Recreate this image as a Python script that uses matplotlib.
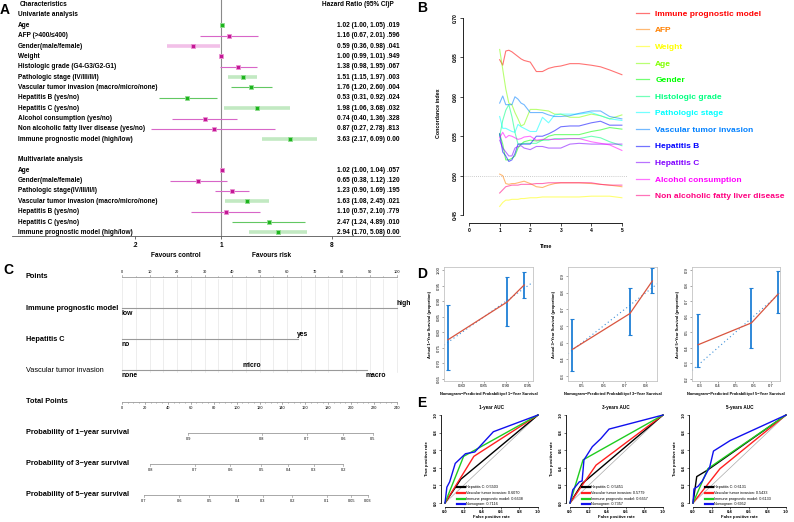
import numpy as np
import matplotlib
matplotlib.use('Agg')
import matplotlib.pyplot as plt
from matplotlib import transforms as mtrans
from matplotlib.lines import Line2D
from matplotlib.ticker import NullLocator

plt.rcParams['font.family'] = ['Liberation Sans', 'DejaVu Sans']
plt.rcParams['axes.linewidth'] = 0.6

# ---------------- DATA ----------------
# Panel A (forest plot)
uni_labels = ['Age', 'AFP (>400/\u2264400)', 'Gender(male/female)', 'Weight',
              'Histologic grade (G4-G3/G2-G1)', 'Pathologic stage (IV/III/II/I)',
              'Vascular tumor invasion (macro/micro/none)', 'Hepatitis B (yes/no)',
              'Hepatitis C (yes/no)', 'Alcohol consumption (yes/no)',
              'Non alcoholic fatty liver disease (yes/no)', 'Immune prognostic model (high/low)']
uni_hr = [1.02, 1.16, 0.59, 1.00, 1.38, 1.51, 1.76, 0.53, 1.98, 0.74, 0.87, 3.63]
uni_lo = [1.00, 0.67, 0.36, 0.99, 0.98, 1.15, 1.20, 0.31, 1.06, 0.40, 0.27, 2.17]
uni_hi = [1.05, 2.01, 0.98, 1.01, 1.95, 1.97, 2.60, 0.92, 3.68, 1.36, 2.78, 6.09]
uni_p = ['.019', '.596', '.041', '.949', '.067', '.003', '.004', '.024', '.032', '.328', '.813', '0.00']

multi_labels = ['Age', 'Gender(male/female)', 'Pathologic stage(IV/III/II/I)',
                'Vascular tumor invasion (macro/micro/none)', 'Hepatitis B (yes/no)',
                'Hepatitis C (yes/no)', 'Immune prognostic model (high/low)']
multi_hr = [1.02, 0.65, 1.23, 1.63, 1.10, 2.47, 2.94]
multi_lo = [1.00, 0.38, 0.90, 1.08, 0.57, 1.24, 1.70]
multi_hi = [1.04, 1.12, 1.69, 2.45, 2.10, 4.89, 5.08]
multi_p = ['.057', '.120', '.195', '.021', '.779', '.010', '0.00']

# style groups (separate from values)
uni_group = ['g', 'm', 'm', 'm', 'm', 'g', 'g', 'g', 'g', 'm', 'm', 'g']
uni_wide = [False, False, True, False, False, True, False, False, True, False, False, True]
multi_group = ['m', 'm', 'm', 'g', 'm', 'g', 'g']
multi_wide = [False, False, False, True, False, False, True]

# Panel B (time-dependent C-index)
b_time = [1.0, 1.1, 1.2, 1.3, 1.4, 1.5, 1.6, 1.7, 1.8, 2.0, 2.2, 2.4, 2.6, 2.8, 3.0, 3.3, 3.6, 4.0, 4.3, 4.6, 5.0]
b_names = ['Immune prognostic model', 'AFP', 'Weight', 'Age', 'Gender', 'Histologic grade',
           'Pathologic stage', 'Vascular tumor invasion', 'Hepatitis B', 'Hepatitis C',
           'Alcohol consumption', 'Non alcoholic fatty liver disease']
b_immune = [0.647, 0.640, 0.658, 0.659, 0.657, 0.654, 0.651, 0.648, 0.646, 0.644, 0.632, 0.632, 0.636, 0.638, 0.639, 0.642, 0.642, 0.640, 0.638, 0.634, 0.628]
b_afp = [0.502, 0.500, 0.490, 0.489, 0.490, 0.490, 0.491, 0.492, 0.493, 0.490, 0.486, 0.485, 0.488, 0.490, 0.491, 0.491, 0.491, 0.490, 0.489, 0.488, 0.486]
b_weight = [0.461, 0.466, 0.469, 0.469, 0.470, 0.470, 0.470, 0.471, 0.471, 0.472, 0.472, 0.473, 0.473, 0.473, 0.473, 0.473, 0.473, 0.474, 0.474, 0.474, 0.472]
b_age = [0.660, 0.635, 0.610, 0.592, 0.590, 0.580, 0.572, 0.563, 0.565, 0.584, 0.584, 0.583, 0.582, 0.578, 0.578, 0.574, 0.574, 0.578, 0.576, 0.572, 0.577]
b_gender = [0.553, 0.540, 0.520, 0.520, 0.522, 0.525, 0.535, 0.540, 0.543, 0.545, 0.544, 0.545, 0.550, 0.552, 0.552, 0.552, 0.552, 0.556, 0.558, 0.561, 0.559]
b_histo = [0.550, 0.570, 0.583, 0.590, 0.575, 0.555, 0.540, 0.540, 0.541, 0.541, 0.541, 0.545, 0.545, 0.547, 0.547, 0.547, 0.547, 0.550, 0.548, 0.543, 0.538]
b_path = [0.575, 0.560, 0.560, 0.558, 0.556, 0.555, 0.565, 0.562, 0.560, 0.556, 0.556, 0.574, 0.567, 0.577, 0.578, 0.578, 0.578, 0.580, 0.576, 0.572, 0.570]
b_vasc = [0.592, 0.601, 0.590, 0.590, 0.590, 0.600, 0.597, 0.592, 0.590, 0.580, 0.580, 0.580, 0.577, 0.575, 0.575, 0.576, 0.579, 0.582, 0.582, 0.575, 0.572]
b_hepb = [0.553, 0.530, 0.525, 0.518, 0.520, 0.528, 0.540, 0.540, 0.540, 0.540, 0.550, 0.550, 0.553, 0.557, 0.562, 0.563, 0.563, 0.567, 0.569, 0.564, 0.564]
b_hepc = [0.545, 0.535, 0.530, 0.525, 0.525, 0.535, 0.537, 0.538, 0.535, 0.533, 0.537, 0.537, 0.535, 0.535, 0.535, 0.540, 0.541, 0.540, 0.540, 0.540, 0.540]
b_alcohol = [0.548, 0.555, 0.548, 0.551, 0.550, 0.548, 0.546, 0.547, 0.549, 0.550, 0.545, 0.546, 0.546, 0.546, 0.546, 0.547, 0.547, 0.543, 0.541, 0.539, 0.532]
b_nafld = [0.478, 0.482, 0.486, 0.487, 0.488, 0.488, 0.488, 0.489, 0.489, 0.489, 0.490, 0.490, 0.491, 0.491, 0.491, 0.491, 0.491, 0.491, 0.489, 0.488, 0.488]
b_series = [b_immune, b_afp, b_weight, b_age, b_gender, b_histo, b_path, b_vasc,
            b_hepb, b_hepc, b_alcohol, b_nafld]

# Panel C (nomogram)
c_points_ticks = list(range(0, 101, 10))
c_vars = ['Immune prognostic model', 'Hepatitis C', 'Vascular tumor invasion']
c_levels = [['low', 'high'], ['no', 'yes'], ['none', 'micro', 'macro']]
c_level_pts = [[0, 100], [0, 64], [0, 44, 89]]
c_total_ticks = list(range(0, 241, 20))
c_prob_names = ['Probability of 1\u2212year survival', 'Probability of 3\u2212year survival',
                'Probability of 5\u2212year survival']
c_prob_labels = [['0.9', '0.8', '0.7', '0.6', '0.5'],
                 ['0.8', '0.7', '0.6', '0.5', '0.4', '0.3', '0.2'],
                 ['0.7', '0.6', '0.5', '0.4', '0.3', '0.2', '0.1', '0.05', '0.03']]
c_prob_total = [[58, 122, 161.5, 193, 219],
                [24.5, 63.5, 94.5, 121.5, 145, 167.5, 193],
                [19, 50, 76, 100.5, 123, 148.5, 179, 200, 214.5]]

# Panel D (calibration)
d_years = ['1', '3', '5']
d_pred = [[0.768, 0.902, 0.941], [0.455, 0.725, 0.83], [0.29, 0.59, 0.74]]
d_obs = [[0.776, 0.897, 0.952], [0.46, 0.675, 0.87], [0.42, 0.56, 0.745]]
d_lo = [[0.68, 0.82, 0.91], [0.33, 0.545, 0.80], [0.28, 0.40, 0.625]]
d_hi = [[0.888, 0.977, 0.993], [0.645, 0.83, 0.95], [0.62, 0.785, 0.895]]

# Panel E (ROC)
e_titles = ['1-year AUC', '3-years AUC', '5-years AUC']
e_names = ['Hepatitis C', 'Vascular tumor invasion', 'Immune prognostic model', 'Nomogram']
e_auc = [['0.5503', '0.6070', '0.6638', '0.7116'],
         ['0.5451', '0.5779', '0.6657', '0.7357'],
         ['0.6131', '0.5433', '0.6133', '0.6952']]
e_fpr = [
    [[0, 0.17, 1], [0, 0.31, 1], [0, 0.2, 1], [0, 0.02, 0.05, 0.11, 0.22, 0.32, 0.52, 1]],
    [[0, 0.13, 1], [0, 0.28, 1], [0, 0.14, 1], [0, 0.03, 0.1, 0.13, 0.15, 0.24, 0.33, 0.42, 1]],
    [[0, 0.04, 0.15, 1], [0, 0.29, 1], [0, 0.16, 1], [0, 0.01, 0.055, 0.1, 0.18, 0.22, 0.4, 1]],
]
e_tpr = [
    [[0, 0.27, 1], [0, 0.53, 1], [0, 0.53, 1], [0, 0.18, 0.24, 0.45, 0.56, 0.58, 0.81, 1]],
    [[0, 0.22, 1], [0, 0.43, 1], [0, 0.49, 1], [0, 0.15, 0.24, 0.25, 0.49, 0.64, 0.73, 0.84, 1]],
    [[0, 0.30, 0.37, 1], [0, 0.39, 1], [0, 0.39, 1], [0, 0.16, 0.19, 0.25, 0.41, 0.59, 0.71, 1]],
]

# ---------------- FIGURE ----------------
W, H = 794, 522
fig = plt.figure(figsize=(W / 100, H / 100), dpi=100)


def add_ax(x0, y0, x1, y1):
    return fig.add_axes([x0 / W, 1 - y1 / H, (x1 - x0) / W, (y1 - y0) / H])


def ftext(x, y, s, **kw):
    kw.setdefault('va', 'center')
    return fig.text(x / W, 1 - y / H, s, **kw)


BF = dict(fontweight='bold')
FA = 4.7

# ---- Panel letters
for lt, (x, y) in zip('ABCDE', [(5, 10), (422, 8), (8, 270), (422, 274), (422, 403)]):
    ftext(x, y, lt, fontsize=10, ha='center', **BF)

# ---- Panel A
axA = add_ax(12, 0, 400, 236)
axA.set_xscale('log')
axA.set_xlim(np.exp((12 - 221) / 53.2), np.exp((400 - 221) / 53.2))
row0, drow = 15, 10.35
axA.set_ylim((236 - row0) / drow, -row0 / drow)
for s in ['top', 'right', 'left']:
    axA.spines[s].set_visible(False)
axA.spines['bottom'].set_color('#555555')
axA.set_yticks([])
axA.set_xticks([0.2, 1, 8])
axA.set_xticklabels(['.2', '1', '8'])
axA.xaxis.set_minor_locator(NullLocator())
axA.tick_params(axis='x', labelsize=FA, length=2.5, width=0.6, pad=2, color='#555555')
for t in axA.get_xticklabels():
    t.set_fontweight('bold')
axA.axvline(1, color='#8a8a8a', lw=0.8, zorder=1)
axA.patch.set_alpha(0)
transA = mtrans.blended_transform_factory(fig.transFigure, axA.transData)

ftext(20, 4, 'Characteristics', fontsize=FA, **BF)
ftext(322, 4, 'Hazard Ratio (95% CI)P', fontsize=FA, **BF)
axA.text(18 / W, 0, 'Univariate analysis', transform=transA, fontsize=FA, va='center', **BF)
axA.text(18 / W, 14, 'Multivariate analysis', transform=transA, fontsize=FA, va='center', **BF)


def draw_rows(labels, hr, lo, hi, p, groups, wide, start):
    for k in range(len(labels)):
        i = start + k
        g = groups[k]
        if wide[k]:
            lc, lw = ('#c2e9c2' if g == 'g' else '#f2c0e8'), 2.6
        else:
            lc, lw = ('#62c862' if g == 'g' else '#d866c8'), 0.8
        axA.plot([lo[k], hi[k]], [i, i], color=lc, lw=lw, solid_capstyle='butt', zorder=2)
        mc, me = ('#1db41d', '#90dc90') if g == 'g' else ('#c41896', '#ea92d2')
        axA.plot([hr[k]], [i], marker='s', ms=3.2, mfc=mc, mec=me, mew=0.6, zorder=3)
        axA.text(18 / W, i, labels[k], transform=transA, fontsize=FA, va='center', **BF)
        axA.text(337 / W, i, f"{hr[k]:.2f} ({lo[k]:.2f}, {hi[k]:.2f}) {p[k]}",
                 transform=transA, fontsize=FA, va='center', **BF)


draw_rows(uni_labels, uni_hr, uni_lo, uni_hi, uni_p, uni_group, uni_wide, 1)
draw_rows(multi_labels, multi_hr, multi_lo, multi_hi, multi_p, multi_group, multi_wide, 15)
ftext(176, 256, 'Favours control', fontsize=FA, ha='center', **BF)
ftext(272, 256, 'Favours risk', fontsize=FA, ha='center', **BF)

# ---- Panel B
rainbow = ['#FF0000', '#FF8000', '#FFFF00', '#80FF00', '#00FF00', '#00FF80',
           '#00FFFF', '#0080FF', '#0000FF', '#8000FF', '#FF00FF', '#FF0080']
axB = add_ax(463, 10, 628, 223)
axB.set_xlim(-0.2, 5.2)
axB.set_ylim(0.44, 0.71)
for s in ['top', 'right']:
    axB.spines[s].set_visible(False)
axB.spines['left'].set_bounds(0.45, 0.70)
axB.spines['bottom'].set_bounds(0, 5)
axB.set_xticks(range(0, 6))
axB.set_yticks([0.45, 0.50, 0.55, 0.60, 0.65, 0.70])
axB.set_yticklabels(['0.45', '0.50', '0.55', '0.60', '0.65', '0.70'], rotation=90, va='center')
axB.tick_params(labelsize=3.6, length=2, width=0.5, pad=1.5)
for t in axB.get_xticklabels() + axB.get_yticklabels():
    t.set_fontweight('bold')
axB.axhline(0.5, color='#bbbbbb', lw=0.6, ls=(0, (1, 1.5)))
handles = []
for name, ser, col in zip(b_names, b_series, rainbow):
    axB.plot(b_time, ser, color=col, lw=0.8, alpha=0.55)
    handles.append(Line2D([], [], color=col, lw=0.9, alpha=0.55))
ftext(546, 247, 'Time', fontsize=3.8, ha='center', **BF)
ftext(439, 113, 'Concordance index', fontsize=3.8, ha='center', rotation=90, **BF)
leg = fig.legend(handles, b_names, loc='upper left', bbox_to_anchor=(636 / W, 1 - 10 / H),
                 frameon=False, prop={'size': 6, 'weight': 'bold'}, handlelength=1.6,
                 handletextpad=0.7, labelspacing=1.05, borderpad=0, borderaxespad=0)
for t, col in zip(leg.get_texts(), rainbow):
    t.set_color(col)

# ---- Panel C (nomogram)
axC = add_ax(0, 262, 400, 515)
pt0, pxpt = 122, 2.75
axC.set_xlim(-pt0 / pxpt, (400 - pt0) / pxpt)
r0, dr = 277, 31.14
axC.set_ylim((515 - r0) / dr, (262 - r0) / dr)
axC.axis('off')
transC = mtrans.blended_transform_factory(fig.transFigure, axC.transData)
LC = '#9a9a9a'
FC = 5.3
for v in range(0, 101, 5):
    axC.plot([v, v], [0.08, 3.05], color='#e6e6e6', lw=0.5, zorder=0)
# Points
axC.text(26 / W, 0, 'Points', transform=transC, fontsize=FC, va='center', **BF)
axC.plot([0, 100], [0, 0], color=LC, lw=0.6)
for v in c_points_ticks:
    axC.plot([v, v], [0, -0.07], color=LC, lw=0.5)
    axC.text(v, -0.17, str(v), fontsize=2.8, ha='center', va='center')
for v in range(5, 100, 10):
    axC.plot([v, v], [0, -0.04], color=LC, lw=0.4)
# variables
for r, (name, levs, pts) in enumerate(zip(c_vars, c_levels, c_level_pts), start=1):
    wt = 'normal' if r == 3 else 'bold'
    axC.text(26 / W, r, name, transform=transC, fontsize=FC, va='center', fontweight=wt)
    axC.plot([min(pts), max(pts)], [r, r], color=LC, lw=0.8)
    for k, (lv, pv) in enumerate(zip(levs, pts)):
        dy = 0.16 if k % 2 == 0 else -0.16
        axC.text(pv - 0.3, r + dy, lv, fontsize=4.9, ha='left', va='center', **BF)
# total points
axC.text(26 / W, 4, 'Total Points', transform=transC, fontsize=FC, va='center', **BF)
axC.plot([0, 100], [4, 4], color=LC, lw=0.6)
for v in range(0, 241, 5):
    axC.plot([v / 2.4, v / 2.4], [4, 4.05], color=LC, lw=0.4)
for v in c_total_ticks:
    axC.plot([v / 2.4, v / 2.4], [4, 4.08], color=LC, lw=0.5)
    axC.text(v / 2.4, 4.2, str(v), fontsize=2.8, ha='center', va='center')
# probabilities
for r, (name, labs, tps) in enumerate(zip(c_prob_names, c_prob_labels, c_prob_total), start=5):
    axC.text(26 / W, r, name, transform=transC, fontsize=FC, va='center', **BF)
    axC.plot([min(tps) / 2.4, max(tps) / 2.4], [r, r], color=LC, lw=0.6)
    for lab, tp in zip(labs, tps):
        axC.plot([tp / 2.4, tp / 2.4], [r, r + 0.08], color=LC, lw=0.5)
        axC.text(tp / 2.4, r + 0.2, lab, fontsize=2.8, ha='center', va='center')

# ---- Panel D (calibration)
d_boxes = [(444, 533), (568, 657), (692, 780)]
d_xlim = [(0.759, 0.961), (0.434, 0.852), (0.255, 0.751)]
d_ylim = [(0.6436, 1.0096), (0.270, 0.954), (0.187, 0.919)]
d_xticks = [[0.80, 0.85, 0.90, 0.95], [0.5, 0.6, 0.7, 0.8], [0.3, 0.4, 0.5, 0.6, 0.7]]
d_yticks = [[0.65, 0.70, 0.75, 0.80, 0.85, 0.90, 0.95, 1.00],
            [0.3, 0.4, 0.5, 0.6, 0.7, 0.8, 0.9],
            [0.2, 0.3, 0.4, 0.5, 0.6, 0.7, 0.8, 0.9]]
d_fmt = ['{:.2f}', '{:.1f}', '{:.1f}']
for j in range(3):
    x0, x1 = d_boxes[j]
    ax = add_ax(x0, 267, x1, 381)
    ax.set_xlim(*d_xlim[j])
    ax.set_ylim(*d_ylim[j])
    for s in ax.spines.values():
        s.set_color('#c4c4c4')
        s.set_linewidth(0.6)
    ax.set_xticks(d_xticks[j])
    ax.set_xticklabels([d_fmt[j].format(v) for v in d_xticks[j]])
    ax.set_yticks(d_yticks[j])
    ax.set_yticklabels([d_fmt[j].format(v) for v in d_yticks[j]], rotation=90, va='center')
    ax.tick_params(labelsize=3.0, length=1.5, width=0.4, pad=1, color='#666666')
    lo_, hi_ = d_xlim[j]
    ax.plot([lo_, hi_], [lo_, hi_], color='#3d8fd8', lw=0.8, ls=(0, (1, 2.5)))
    ax.vlines(d_pred[j], d_lo[j], d_hi[j], color='#1f7fd6', lw=1.3)
    ax.plot(d_pred[j] * 2, d_lo[j] + d_hi[j], ls='none', marker='_', ms=2.5, mew=0.8, color='#1f7fd6')
    ax.plot(d_pred[j], d_obs[j], color='#d9553f', lw=0.9)
    cx = (x0 + x1) / 2
    ftext(cx, 394, f'Nomogram\u2212Predicted Probabilityof {d_years[j]}\u2212Year Survival',
          fontsize=2.9, ha='center', **BF)
    ftext(x0 - 14, 324, f'Actual {d_years[j]}\u2212Year Survival (proportion)', fontsize=2.9,
          ha='center', rotation=90, **BF)

# ---- Panel E (ROC)
e_left = [441.3, 566.3, 689.3]
e_cols = ['#000000', '#ff2020', '#20cc20', '#1010ee']
for j in range(3):
    x0 = e_left[j]
    ax = add_ax(x0, 411.5, x0 + 100.4, 506.5)
    ax.set_xlim(-0.04, 1.04)
    ax.set_ylim(-0.04, 1.04)
    for s in ['top', 'right']:
        ax.spines[s].set_visible(False)
    ax.spines['left'].set_bounds(0, 1)
    ax.spines['bottom'].set_bounds(0, 1)
    ticks = [0, 0.2, 0.4, 0.6, 0.8, 1.0]
    ax.set_xticks(ticks)
    ax.set_xticklabels([f'{v:.1f}' for v in ticks])
    ax.set_yticks(ticks)
    ax.set_yticklabels([f'{v:.1f}' for v in ticks], rotation=90, va='center')
    ax.tick_params(labelsize=3.0, length=1.5, width=0.4, pad=1)
    for t in ax.get_xticklabels() + ax.get_yticklabels():
        t.set_fontweight('bold')
    ax.plot([0, 1], [0, 1], color='#aaaaaa', lw=0.5)
    hs = []
    for k in range(4):
        ax.plot(e_fpr[j][k], e_tpr[j][k], color=e_cols[k], lw=1.0)
        hs.append(Line2D([], [], color=e_cols[k], lw=1.6))
    labs = [f'{n}: {a}' for n, a in zip(e_names, e_auc[j])]
    ax.legend(hs, labs, loc='lower left', bbox_to_anchor=(0.155, 0.0), frameon=False,
              prop={'size': 2.7}, handlelength=2.2, handletextpad=0.3, labelspacing=0.45,
              borderpad=0, borderaxespad=0)
    cx = x0 + 4 + 46
    ftext(cx, 407, e_titles[j], fontsize=3.3, ha='center', **BF)
    ftext(cx, 517, 'False positive rate', fontsize=3.1, ha='center', **BF)
    ftext(x0 - 14, 459, 'True positive rate', fontsize=3.1, ha='center', rotation=90, **BF)

fig.savefig('out.png', dpi=100)
